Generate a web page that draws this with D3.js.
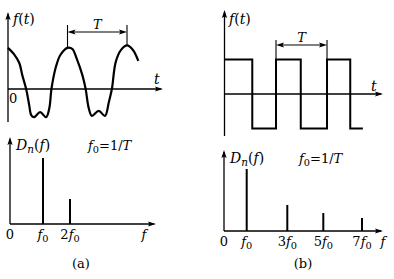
<!DOCTYPE html>
<html><head><meta charset="utf-8">
<script src="https://cdn.jsdelivr.net/npm/d3@7"></script>
<style>
html,body{margin:0;padding:0;background:#fff;}
</style></head>
<body><svg id="c" width="394" height="279"></svg>
<script>
// ---- data ----
// (a) periodic waveform f(t): time in units of T, amplitude relative to the peak
const waveT = [0, 0.10, 0.19, 0.24, 0.305, 0.356, 0.39, 0.44, 0.54, 0.64, 0.695, 0.73, 0.80, 0.88, 1.0, 1.085, 1.15, 1.25, 1.305, 1.356, 1.41, 1.525, 1.63, 1.695, 1.746, 1.81, 1.90, 2.0, 2.10, 2.19];
const waveF = [0.98, 0.83, 0.62, 0.33, 0, -0.38, -0.62, -0.67, -0.55, -0.67, -0.45, 0, 0.50, 0.81, 0.98, 0.95, 0.74, 0.33, 0, -0.45, -0.64, -0.52, -0.64, -0.31, 0, 0.64, 0.93, 1.04, 0.93, 0.67];
// (b) square wave: switching instants (units of T) and levels
const squareEdges = [0, 0.55, 1.02, 1.51, 2.03, 2.49];
const squareLevels = [1, -1, 1, -1, 1, -1];
const squareEnd = 2.74;
// spectra
const specAHarm = [1, 2];
const specAAmp = [1.0, 0.38];
const specBHarm = [1, 3, 5, 7];
const specBAmp = [1.0, 0.42, 0.29, 0.21];
// tick labels
const specATicks = [0, 1, 2];
const specATickLabels = [[{t:"0"}], [{t:"f",i:1},{t:"0",s:1}], [{t:"2"},{t:"f",i:1},{t:"0",s:1}]];
const specBTicks = [0, 1, 3, 5, 7];
const specBTickLabels = [[{t:"0"}], [{t:"f",i:1},{t:"0",s:1}], [{t:"3"},{t:"f",i:1},{t:"0",s:1}], [{t:"5"},{t:"f",i:1},{t:"0",s:1}], [{t:"7"},{t:"f",i:1},{t:"0",s:1}]];
const labFt = [{t:"f",i:1},{t:"("},{t:"t",i:1},{t:")"}];
const labDn = [{t:"D",i:1},{t:"n",i:1,s:1},{t:"("},{t:"f",i:1},{t:")"}];
const labF0 = [{t:"f",i:1},{t:"0",s:1},{t:"=1/"},{t:"T",i:1}];
const panelLabels = ["(a)", "(b)"];

// ---- drawing ----
const FONT = "'DejaVu Serif', 'Liberation Serif', serif";
const svg = d3.select("#c");

function rich(x, y, parts, size, anchor) {
  const tx = svg.append("text").attr("x", x).attr("y", y)
    .attr("font-family", FONT).attr("fill", "#000")
    .attr("text-anchor", anchor || "start").attr("font-size", size);
  let sub = false;
  parts.forEach(p => {
    const ts = tx.append("tspan").text(p.t);
    if (p.i) ts.attr("font-style", "italic");
    if (p.s && !sub) { ts.attr("dy", size * 0.24); sub = true; }
    else if (!p.s && sub) { ts.attr("dy", -size * 0.24); sub = false; }
    if (p.s) ts.attr("font-size", size * 0.75);
  });
  return tx;
}
function arrowUp(x, y) {
  svg.append("path").attr("d", `M${x},${y} L${x-2.6},${y+8} L${x},${y+6.5} L${x+2.6},${y+8} Z`).attr("fill", "#000");
}
function arrowRight(x, y) {
  svg.append("path").attr("d", `M${x},${y} L${x-8},${y-2.6} L${x-6.5},${y} L${x-8},${y+2.6} Z`).attr("fill", "#000");
}
function arrowLeft(x, y) {
  svg.append("path").attr("d", `M${x},${y} L${x+8},${y-2.6} L${x+6.5},${y} L${x+8},${y+2.6} Z`).attr("fill", "#000");
}
function axes(x0, x1, yAxis, yTop, yBot) {
  svg.append("line").attr("x1", x0).attr("x2", x0).attr("y1", yBot).attr("y2", yTop + 2).attr("stroke", "#000").attr("stroke-width", 1.3);
  arrowUp(x0, yTop);
  svg.append("line").attr("x1", x0).attr("x2", x1 - 2).attr("y1", yAxis).attr("y2", yAxis).attr("stroke", "#000").attr("stroke-width", 1.3);
  arrowRight(x1, yAxis);
}
function dimT(xa, xb, yArrow, yTop, ya, yb) {
  svg.append("line").attr("x1", xa).attr("x2", xa).attr("y1", yTop).attr("y2", ya).attr("stroke", "#000").attr("stroke-width", 1.1);
  svg.append("line").attr("x1", xb).attr("x2", xb).attr("y1", yTop).attr("y2", yb).attr("stroke", "#000").attr("stroke-width", 1.1);
  svg.append("line").attr("x1", xa + 3).attr("x2", xb - 3).attr("y1", yArrow).attr("y2", yArrow).attr("stroke", "#000").attr("stroke-width", 1.1);
  arrowLeft(xa, yArrow);
  arrowRight(xb, yArrow);
}

// (a) time signal
const xA = d3.scaleLinear().domain([0, 1]).range([8, 67.5]);
const yA = d3.scaleLinear().domain([0, 1]).range([89, 47]);
axes(xA(0), 163, yA(0), 12, 122);
const waveData = waveT.map((t, i) => [t, waveF[i]]);
svg.append("path").datum(waveData)
  .attr("d", d3.line().x(d => xA(d[0])).y(d => yA(d[1])).curve(d3.curveCatmullRom.alpha(0.5)))
  .attr("fill", "none").attr("stroke", "#000").attr("stroke-width", 2.2);
rich(13, 24, labFt, 14);
rich(154, 84, [{t:"t",i:1}], 14);
rich(9, 103, [{t:"0"}], 13);
dimT(xA(1), xA(2), 32, 25, yA(0.98), yA(1.04));
rich((xA(1) + xA(2)) / 2, 29, [{t:"T",i:1}], 13, "middle");

// (b) time signal
const xB = d3.scaleLinear().domain([0, 1]).range([224.5, 275]);
const yB = d3.scaleLinear().domain([-1, 1]).range([128.5, 59.5]);
axes(xB(0), 383, yB(0), 10, 136);
const sq = [];
squareEdges.forEach((t, i) => {
  const tNext = i + 1 < squareEdges.length ? squareEdges[i + 1] : squareEnd;
  sq.push([t, squareLevels[i]], [tNext, squareLevels[i]]);
});
svg.append("path").datum(sq)
  .attr("d", d3.line().x(d => xB(d[0])).y(d => yB(d[1])))
  .attr("fill", "none").attr("stroke", "#000").attr("stroke-width", 2).attr("stroke-linejoin", "miter");
rich(229, 24, labFt, 14);
rich(371, 91, [{t:"t",i:1}], 14);
dimT(xB(squareEdges[2]), xB(squareEdges[4]), 45, 40, yB(1), yB(1));
rich((xB(squareEdges[2]) + xB(squareEdges[4])) / 2, 42, [{t:"T",i:1}], 13, "middle");

// (a) spectrum
const sxA = d3.scaleLinear().domain([0, 1, 2]).range([10, 43, 70]);
const syA = d3.scaleLinear().domain([0, 1]).range([224, 158]);
axes(sxA(0), 156, syA(0), 137, syA(0));
svg.selectAll(".la").data(specAHarm).enter().append("line")
  .attr("x1", d => sxA(d)).attr("x2", d => sxA(d))
  .attr("y1", syA(0)).attr("y2", (d, i) => syA(specAAmp[i]))
  .attr("stroke", "#000").attr("stroke-width", 2);
specATicks.forEach((h, i) => rich(sxA(h), 239, specATickLabels[i], 13, "middle"));
rich(144, 239, [{t:"f",i:1}], 13, "middle");
rich(16, 150, labDn, 14);
rich(88, 150, labF0, 13);
rich(81, 268, [{t:panelLabels[0]}], 13, "middle");

// (b) spectrum
const sxB = d3.scaleLinear().domain([0, 1, 3, 5, 7]).range([224, 246.7, 287.3, 323.3, 362]);
const syB = d3.scaleLinear().domain([0, 1]).range([231, 169]);
axes(sxB(0), 383, syB(0), 150, syB(0));
svg.selectAll(".lb").data(specBHarm).enter().append("line")
  .attr("x1", d => sxB(d)).attr("x2", d => sxB(d))
  .attr("y1", syB(0)).attr("y2", (d, i) => syB(specBAmp[i]))
  .attr("stroke", "#000").attr("stroke-width", 2);
specBTicks.forEach((h, i) => rich(sxB(h), 246, specBTickLabels[i], 13, "middle"));
rich(383, 246, [{t:"f",i:1}], 13, "middle");
rich(230, 163, labDn, 14);
rich(299, 163, labF0, 13);
rich(303, 268, [{t:panelLabels[1]}], 13, "middle");
</script></body></html>
